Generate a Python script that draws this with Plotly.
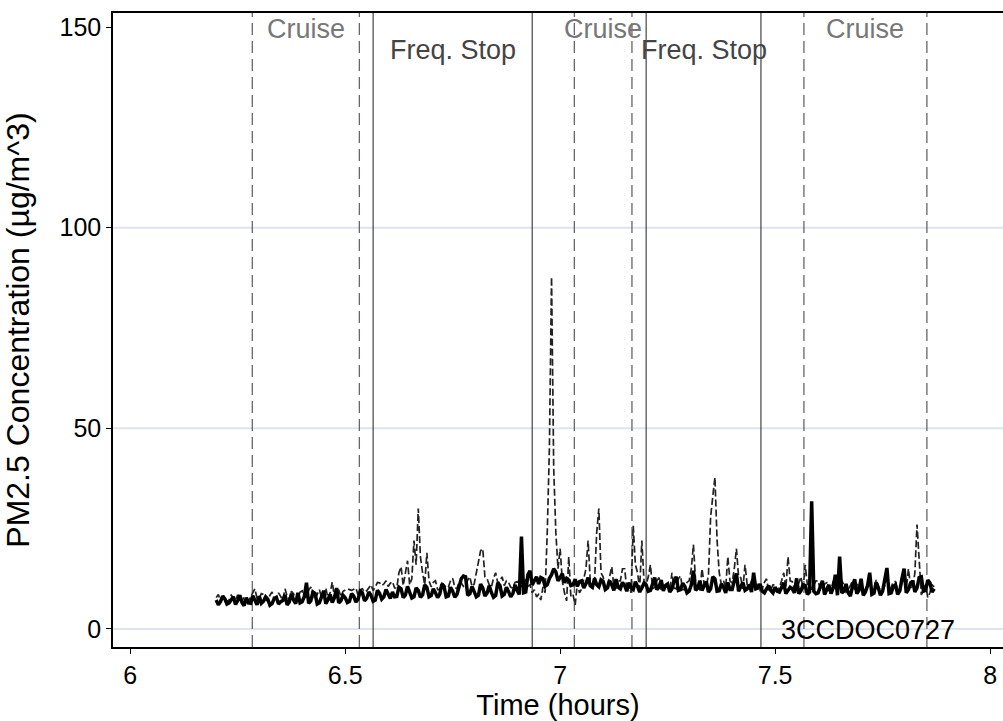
import plotly.graph_objects as go

# ---------------- data ----------------
time_h = [
    6.200, 6.205, 6.210, 6.215, 6.220, 6.225, 6.230, 6.235, 6.240, 6.245,
    6.250, 6.255, 6.260, 6.265, 6.270, 6.275, 6.280, 6.285, 6.290, 6.295,
    6.300, 6.305, 6.310, 6.315, 6.320, 6.325, 6.330, 6.335, 6.340, 6.345,
    6.350, 6.355, 6.360, 6.365, 6.370, 6.375, 6.380, 6.385, 6.390, 6.395,
    6.400, 6.405, 6.410, 6.415, 6.420, 6.425, 6.430, 6.435, 6.440, 6.445,
    6.450, 6.455, 6.460, 6.465, 6.470, 6.475, 6.480, 6.485, 6.490, 6.495,
    6.500, 6.505, 6.510, 6.515, 6.520, 6.525, 6.530, 6.535, 6.540, 6.545,
    6.550, 6.555, 6.560, 6.565, 6.570, 6.575, 6.580, 6.585, 6.590, 6.595,
    6.600, 6.605, 6.610, 6.615, 6.620, 6.625, 6.630, 6.635, 6.640, 6.645,
    6.650, 6.655, 6.660, 6.665, 6.670, 6.675, 6.680, 6.685, 6.690, 6.695,
    6.700, 6.705, 6.710, 6.715, 6.720, 6.725, 6.730, 6.735, 6.740, 6.745,
    6.750, 6.755, 6.760, 6.765, 6.770, 6.775, 6.780, 6.785, 6.790, 6.795,
    6.800, 6.805, 6.810, 6.815, 6.820, 6.825, 6.830, 6.835, 6.840, 6.845,
    6.850, 6.855, 6.860, 6.865, 6.870, 6.875, 6.880, 6.885, 6.890, 6.895,
    6.900, 6.905, 6.910, 6.915, 6.920, 6.925, 6.930, 6.935, 6.940, 6.945,
    6.950, 6.955, 6.960, 6.965, 6.970, 6.975, 6.980, 6.985, 6.990, 6.995,
    7.000, 7.005, 7.010, 7.015, 7.020, 7.025, 7.030, 7.035, 7.040, 7.045,
    7.050, 7.055, 7.060, 7.065, 7.070, 7.075, 7.080, 7.085, 7.090, 7.095,
    7.100, 7.105, 7.110, 7.115, 7.120, 7.125, 7.130, 7.135, 7.140, 7.145,
    7.150, 7.155, 7.160, 7.165, 7.170, 7.175, 7.180, 7.185, 7.190, 7.195,
    7.200, 7.205, 7.210, 7.215, 7.220, 7.225, 7.230, 7.235, 7.240, 7.245,
    7.250, 7.255, 7.260, 7.265, 7.270, 7.275, 7.280, 7.285, 7.290, 7.295,
    7.300, 7.305, 7.310, 7.315, 7.320, 7.325, 7.330, 7.335, 7.340, 7.345,
    7.350, 7.355, 7.360, 7.365, 7.370, 7.375, 7.380, 7.385, 7.390, 7.395,
    7.400, 7.405, 7.410, 7.415, 7.420, 7.425, 7.430, 7.435, 7.440, 7.445,
    7.450, 7.455, 7.460, 7.465, 7.470, 7.475, 7.480, 7.485, 7.490, 7.495,
    7.500, 7.505, 7.510, 7.515, 7.520, 7.525, 7.530, 7.535, 7.540, 7.545,
    7.550, 7.555, 7.560, 7.565, 7.570, 7.575, 7.580, 7.585, 7.590, 7.595,
    7.600, 7.605, 7.610, 7.615, 7.620, 7.625, 7.630, 7.635, 7.640, 7.645,
    7.650, 7.655, 7.660, 7.665, 7.670, 7.675, 7.680, 7.685, 7.690, 7.695,
    7.700, 7.705, 7.710, 7.715, 7.720, 7.725, 7.730, 7.735, 7.740, 7.745,
    7.750, 7.755, 7.760, 7.765, 7.770, 7.775, 7.780, 7.785, 7.790, 7.795,
    7.800, 7.805, 7.810, 7.815, 7.820, 7.825, 7.830, 7.835, 7.840, 7.845,
    7.850, 7.855, 7.860, 7.865, 7.870,
]

pm_solid = [
    7.2, 6.0, 6.8, 8.2, 7.5, 6.2, 6.5, 7.4, 8.0, 6.1,
    7.0, 8.4, 6.6, 5.8, 7.8, 6.5, 6.4, 8.3, 7.3, 6.0,
    8.2, 6.4, 6.9, 8.0, 7.4, 5.9, 6.3, 7.6, 7.9, 6.2,
    6.8, 7.1, 8.5, 6.0, 6.7, 8.8, 7.2, 6.3, 9.0, 6.5,
    6.8, 8.1, 11.5, 6.4, 7.0, 9.2, 8.8, 6.2, 6.5, 8.0,
    9.5, 6.3, 7.2, 8.6, 6.6, 7.8, 10.2, 6.5, 7.0, 8.4,
    7.8, 6.6, 6.9, 8.8, 8.2, 6.7, 7.4, 9.4, 9.0, 7.0,
    7.6, 9.2, 8.4, 6.9, 7.2, 9.6, 8.9, 7.4, 8.0, 9.8,
    8.6, 7.6, 9.2, 8.0, 8.1, 10.4, 10.0, 7.8, 8.4, 10.6,
    9.1, 7.7, 8.0, 10.2, 9.6, 7.9, 8.5, 11.0, 10.4, 8.0,
    8.3, 10.0, 9.0, 7.8, 8.7, 11.2, 10.5, 8.0, 8.2, 10.4,
    9.4, 7.9, 8.6, 11.0, 12.5, 13.2, 13.0, 8.4, 8.8, 10.6,
    9.5, 8.0, 8.4, 11.2, 10.2, 8.2, 8.9, 10.8, 9.1, 7.9,
    8.3, 11.5, 10.8, 8.2, 8.6, 10.4, 9.3, 8.0, 8.8, 11.0,
    9.6, 8.6, 23.0, 9.0, 9.2, 13.5, 14.5, 11.0, 12.0, 13.0,
    11.2, 12.8, 12.5, 10.6, 11.0, 12.6, 13.5, 15.0, 14.2, 12.0,
    12.8, 13.8, 11.5, 12.6, 12.2, 10.8, 11.0, 12.4, 10.6, 11.8,
    12.0, 10.2, 11.3, 12.8, 10.8, 10.4, 12.6, 11.0, 10.5, 12.2,
    11.8, 9.8, 10.2, 12.0, 11.0, 9.6, 12.4, 10.4, 10.0, 11.6,
    10.8, 9.4, 11.5, 10.2, 9.8, 11.8, 10.6, 9.2, 10.2, 11.4,
    11.0, 9.4, 9.6, 11.6, 12.8, 9.8, 10.4, 12.2, 9.5, 10.8,
    11.2, 9.2, 10.0, 12.0, 13.0, 9.6, 9.8, 11.4, 10.6, 9.0,
    9.4, 11.0, 14.5, 9.6, 10.2, 12.0, 9.6, 10.8, 11.8, 9.2,
    10.0, 13.0, 12.5, 9.4, 9.5, 11.2, 10.4, 9.0, 11.6, 9.8,
    9.8, 12.0, 13.8, 9.4, 10.5, 11.6, 9.6, 10.0, 11.0, 9.2,
    14.0, 10.0, 10.2, 11.2, 9.4, 9.0, 10.0, 10.8, 9.6, 9.0,
    10.4, 9.4, 9.2, 10.6, 11.5, 8.8, 9.8, 10.4, 10.0, 9.0,
    12.6, 8.8, 9.5, 11.0, 10.8, 8.6, 9.2, 31.8, 9.4, 8.8,
    9.0, 10.4, 12.0, 8.6, 9.6, 11.0, 8.8, 10.2, 13.5, 8.4,
    18.0, 9.0, 9.4, 11.2, 9.0, 8.2, 10.6, 12.4, 8.8, 9.6,
    12.5, 8.4, 9.2, 10.8, 14.0, 8.6, 8.9, 11.6, 10.2, 8.4,
    9.4, 12.0, 15.2, 8.8, 9.0, 10.6, 11.0, 8.6, 9.5, 12.6,
    15.0, 9.0, 9.8, 11.4, 12.0, 9.2, 10.2, 12.8, 13.0, 9.4,
    9.6, 12.2, 11.5, 9.2, 10.0,
]

pm_dashed = [
    7.8, 8.6, 7.0, 7.6, 8.2, 6.8, 7.2, 8.4, 7.6, 7.0,
    8.5, 7.2, 6.9, 8.0, 7.4, 7.0, 8.0, 9.0, 10.0, 7.6,
    7.5, 8.8, 8.6, 7.2, 7.0, 8.4, 9.2, 7.4, 7.8, 9.0,
    8.0, 7.2, 10.0, 8.2, 7.2, 9.4, 8.8, 7.0, 7.6, 9.2,
    9.5, 7.8, 8.0, 9.6, 10.5, 7.6, 7.4, 8.8, 9.8, 7.8,
    8.2, 10.2, 7.6, 9.0, 11.7, 8.0, 8.4, 9.8, 8.0, 9.4,
    9.6, 10.0, 9.8, 9.6, 9.9, 10.2, 8.4, 9.8, 10.0, 9.2,
    9.5, 10.4, 11.0, 9.6, 10.4, 11.6, 11.5, 10.8, 11.2, 12.0,
    10.6, 11.4, 11.8, 10.2, 10.2, 14.0, 15.5, 10.8, 13.5, 17.0,
    11.0, 12.5, 22.0, 16.0, 30.0, 18.0, 14.0, 11.0, 19.0, 12.0,
    10.5, 11.6, 12.0, 9.8, 9.8, 11.4, 11.0, 10.2, 10.4, 12.0,
    12.6, 10.4, 10.0, 11.8, 11.5, 10.6, 10.8, 12.2, 13.0, 10.6,
    11.2, 14.0, 16.0, 19.5, 20.0, 13.0, 12.5, 11.0, 10.4, 12.6,
    14.0, 11.4, 12.0, 13.0, 10.8, 12.0, 11.6, 10.4, 10.2, 11.6,
    11.8, 10.2, 10.6, 11.2, 12.4, 10.6, 11.0, 9.0, 9.8, 8.0,
    8.6, 7.2, 10.5, 9.0, 24.0, 45.0, 87.7, 40.0, 24.0, 15.0,
    20.0, 12.0, 9.0, 7.0, 18.0, 8.0, 8.5, 6.0, 11.5, 9.0,
    10.0, 13.0, 15.0, 22.0, 12.0, 10.0, 12.0, 24.0, 30.0, 14.0,
    13.0, 10.0, 11.0, 13.0, 15.5, 10.5, 10.2, 12.0, 12.0, 15.0,
    15.0, 10.0, 11.5, 9.0, 25.7, 16.0, 14.0, 10.0, 22.0, 12.0,
    11.0, 13.0, 16.0, 10.0, 10.4, 12.0, 12.8, 9.6, 9.6, 11.0,
    11.5, 9.4, 14.0, 10.2, 10.0, 12.5, 13.2, 9.8, 9.8, 11.6,
    12.0, 15.0, 21.0, 12.0, 11.0, 9.6, 15.0, 11.0, 10.5, 13.5,
    28.0, 33.0, 37.8, 22.0, 14.0, 11.0, 12.0, 10.2, 18.0, 12.0,
    11.5, 15.0, 20.0, 13.0, 12.8, 10.0, 16.0, 11.0, 10.6, 12.0,
    13.0, 10.4, 11.2, 9.6, 10.0, 11.6, 12.5, 9.4, 9.8, 11.0,
    11.0, 9.6, 10.4, 12.0, 14.0, 10.2, 18.0, 12.0, 11.8, 9.8,
    10.2, 11.4, 13.0, 10.0, 16.0, 11.0, 11.5, 9.8, 10.8, 12.0,
    12.0, 9.8, 10.2, 11.2, 11.5, 9.6, 9.8, 11.8, 12.6, 9.4,
    10.4, 12.0, 11.0, 9.2, 9.6, 10.8, 12.0, 9.4, 10.8, 11.6,
    11.4, 9.6, 9.8, 11.0, 12.4, 9.4, 10.2, 12.2, 11.0, 9.4,
    9.6, 10.8, 13.0, 9.6, 10.5, 11.8, 11.8, 9.2, 9.4, 11.6,
    12.2, 9.8, 15.0, 10.6, 10.0, 14.0, 26.0, 16.0, 8.5, 10.0,
    11.0, 7.8, 9.0, 11.0, 10.5,
]

cruise_bounds = [(6.284, 6.533), (7.033, 7.167), (7.567, 7.853)]
stop_bounds = [(6.565, 6.935), (7.200, 7.467)]
cruise_label = "Cruise"
stop_label = "Freq. Stop"
run_id = "3CCDOC0727"

x_ticks = [6, 6.5, 7, 7.5, 8]
x_tick_text = ["6", "6.5", "7", "7.5", "8"]
y_ticks = [0, 50, 100, 150]
y_grid = [0, 50, 100]

FONT = "Liberation Sans, Arial, Helvetica, sans-serif"

fig = go.Figure()

fig.add_trace(go.Scatter(
    x=time_h, y=pm_dashed, mode="lines",
    line=dict(color="#222222", width=1.7, dash="7px,3px"),
    showlegend=False, hoverinfo="skip",
))
fig.add_trace(go.Scatter(
    x=time_h, y=pm_solid, mode="lines",
    line=dict(color="black", width=3.5),
    showlegend=False, hoverinfo="skip",
))

shapes = []
for g in y_grid:
    shapes.append(dict(type="line", xref="paper", x0=0, x1=1, yref="y", y0=g, y1=g,
                       line=dict(color="#dfe3ef", width=2), layer="below"))
for a, b in cruise_bounds:
    for xv in (a, b):
        shapes.append(dict(type="line", xref="x", x0=xv, x1=xv, yref="paper", y0=0, y1=1,
                           line=dict(color="#666666", width=1.3, dash="12px,6px"), layer="below"))
for a, b in stop_bounds:
    for xv in (a, b):
        shapes.append(dict(type="line", xref="x", x0=xv, x1=xv, yref="paper", y0=0, y1=1,
                           line=dict(color="#333333", width=1.1), layer="below"))

annotations = []
for a, b in cruise_bounds:
    annotations.append(dict(x=(a + b) / 2, y=149.5, xref="x", yref="y", text=cruise_label,
                            showarrow=False, xanchor="center", yanchor="middle",
                            font=dict(family=FONT, size=27, color="#777777")))
for a, b in stop_bounds:
    annotations.append(dict(x=(a + b) / 2, y=144.3, xref="x", yref="y", text=stop_label,
                            showarrow=False, xanchor="center", yanchor="middle",
                            font=dict(family=FONT, size=27, color="#444444")))
annotations.append(dict(x=7.716, y=-0.3, xref="x", yref="y", text=run_id,
                        showarrow=False, xanchor="center", yanchor="middle",
                        font=dict(family=FONT, size=27, color="black")))

fig.update_layout(
    width=1003, height=721,
    margin=dict(l=113, r=0, t=13, b=74),
    paper_bgcolor="white", plot_bgcolor="white",
    font=dict(family=FONT, size=25, color="black"),
    shapes=shapes, annotations=annotations,
    xaxis=dict(
        range=[5.96, 8.03], tickmode="array", tickvals=x_ticks, ticktext=x_tick_text,
        showgrid=False, zeroline=False, showline=True, linecolor="black", linewidth=1.5,
        mirror=True, ticks="outside", ticklen=5, tickcolor="black", tickwidth=1.2,
        tickfont=dict(family=FONT, size=25, color="black"),
        title=dict(text="Time (hours)", font=dict(family=FONT, size=29, color="black"), standoff=0),
    ),
    yaxis=dict(
        range=[-4.5, 153.5], tickmode="array", tickvals=y_ticks,
        showgrid=False, zeroline=False, showline=True, linecolor="black", linewidth=1.5,
        ticks="outside", ticklen=5, tickcolor="black", tickwidth=1.2,
        tickfont=dict(family=FONT, size=25, color="black"),
        title=dict(text="PM2.5 Concentration (µg/m^3)", font=dict(family=FONT, size=32, color="black"), standoff=26),
    ),
)

fig.write_html("out.html")
